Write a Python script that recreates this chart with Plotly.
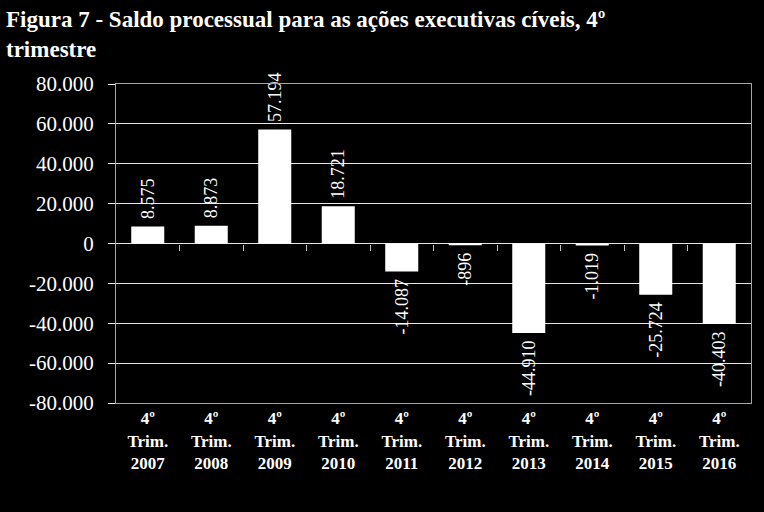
import plotly.graph_objects as go

categories = ["4º<br>Trim.<br>2007", "4º<br>Trim.<br>2008", "4º<br>Trim.<br>2009", "4º<br>Trim.<br>2010",
              "4º<br>Trim.<br>2011", "4º<br>Trim.<br>2012", "4º<br>Trim.<br>2013", "4º<br>Trim.<br>2014",
              "4º<br>Trim.<br>2015", "4º<br>Trim.<br>2016"]
values = [8575, 8873, 57194, 18721, -14087, -896, -44910, -1019, -25724, -40403]
tick_vals = [80000, 60000, 40000, 20000, 0, -20000, -40000, -60000, -80000]
title_text = "Figura 7 - Saldo processual para as ações executivas cíveis, 4º<br>trimestre"


def fmt(v):
    s = f"{abs(v):,}".replace(",", ".")
    return ("-" if v < 0 else "") + s


# non-breaking space pads the label away from the bar end (rotated text)
labels = [("\u00a0" + fmt(v)) if v >= 0 else (fmt(v) + "\u00a0") for v in values]
tick_text = [fmt(v) for v in tick_vals]
n = len(categories)

FONT = "Liberation Serif"

fig = go.Figure(go.Bar(
    x=list(range(n)),
    y=values,
    text=labels,
    textposition="outside",
    textangle=-90,
    constraintext="none",
    cliponaxis=False,
    textfont=dict(family=FONT, size=18, color="white"),
    marker=dict(color="white", line=dict(width=0)),
    hoverinfo="skip",
))

fig.update_layout(
    width=764, height=512,
    paper_bgcolor="black", plot_bgcolor="black",
    margin=dict(l=116, r=13, t=84, b=109),
    bargap=0.48,
    showlegend=False,
    annotations=[dict(
        text="<b>" + title_text + "</b>",
        xref="paper", yref="paper", x=-112 / 635, y=1 + 79 / 319,
        xanchor="left", yanchor="top", align="left", showarrow=False,
        font=dict(family=FONT, size=23, color="white"),
    )],
    xaxis=dict(
        tickmode="array", tickvals=list(range(n)), ticktext=[f"<b>{c}</b>" for c in categories],
        tickfont=dict(family=FONT, size=17, color="white"),
        range=[-0.5, n - 0.5],
        showgrid=False, zeroline=False,
        showline=True, linecolor="#a6a6a6", linewidth=1, mirror=True,
        ticks="", tickangle=0,
    ),
    xaxis2=dict(
        overlaying="x", anchor="free", position=0.5, side="bottom",
        range=[-0.5, n - 0.5], tickmode="array",
        tickvals=[i + 0.5 for i in range(n - 1)],
        showticklabels=False, ticks="outside", ticklen=6, tickcolor="#bfbfbf",
        showgrid=False, zeroline=False, showline=False, visible=True,
    ),
    yaxis=dict(
        range=[-80000, 80000],
        tickmode="array", tickvals=tick_vals, ticktext=tick_text,
        tickfont=dict(family=FONT, size=21, color="white"),
        ticklabelstandoff=10,
        showgrid=True, gridcolor="#e6e6e6", gridwidth=1,
        zeroline=True, zerolinecolor="#e6e6e6", zerolinewidth=1,
        showline=True, linecolor="#a6a6a6", linewidth=1, mirror=True,
        ticks="outside", ticklen=7, tickcolor="#e6e6e6",
    ),
)

# invisible helper trace so the zero-line tick axis is drawn
fig.add_trace(go.Scatter(x=[0], y=[0], xaxis="x2", yaxis="y", mode="markers",
                         marker=dict(opacity=0), hoverinfo="skip", showlegend=False))

fig.write_html(
    "out.html",
    config={"displayModeBar": False},
    post_script="document.body.style.margin='0';document.body.style.background='black';",
)
